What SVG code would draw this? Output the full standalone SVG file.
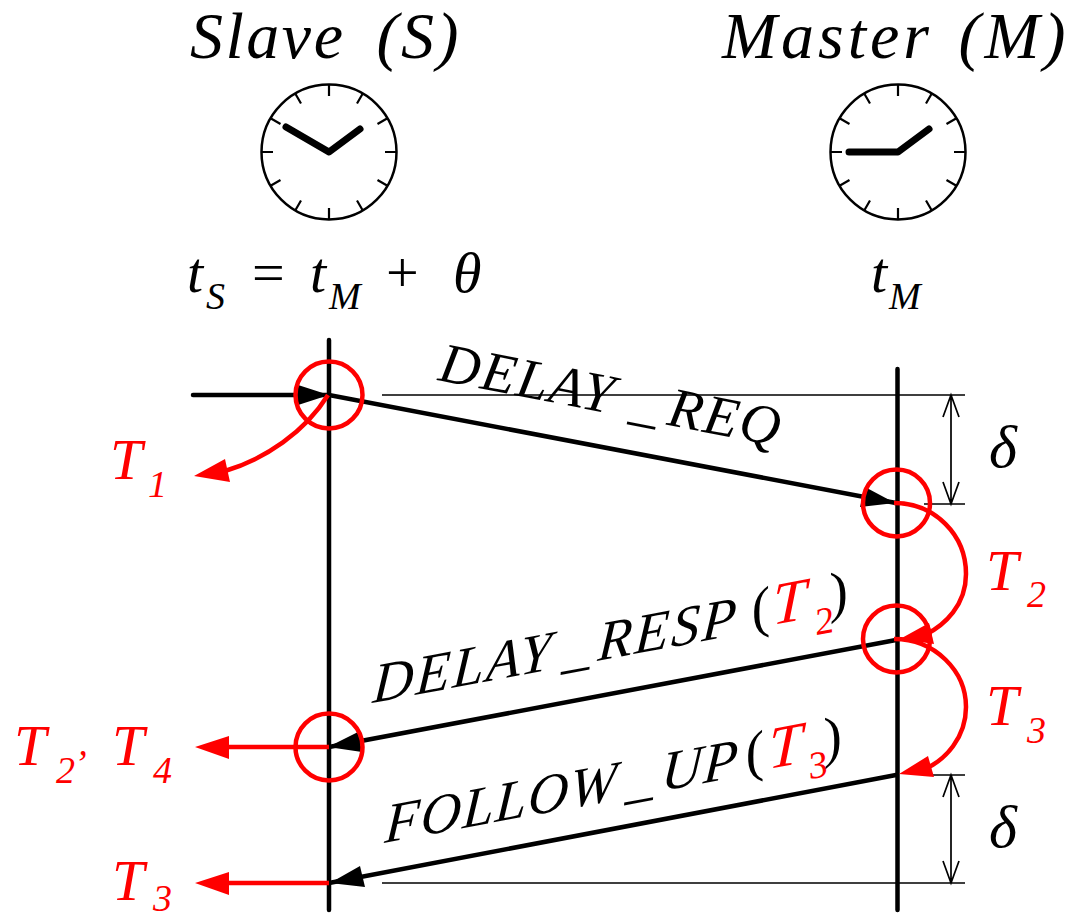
<svg xmlns="http://www.w3.org/2000/svg" width="1070" height="919" viewBox="0 0 1070 919">
<style>
text{font-family:"Liberation Serif","Times New Roman",serif;font-style:italic;fill:#000}
.h{font-size:66px}
.m{font-size:56px}
.v{font-size:58px}
.s{font-size:38px}
.n{font-style:normal}
.r{fill:#f00}
.ax{stroke:#000;stroke-width:4.500;fill:none;stroke-linecap:round}
.thin{stroke:#000;stroke-width:1.700;fill:none}
.rl{stroke:#f00;stroke-width:4.500;fill:none}
.face{fill:#fff;stroke:#000;stroke-width:2.500}
.tick{stroke:#000;stroke-width:2.200}
.hand{stroke:#000;stroke-width:7;fill:none;stroke-linecap:round;stroke-linejoin:round}
.bk{fill:#000}
.rf{fill:#f00}
</style>
<defs>
<g id="face">
<circle class="face" r="67.500"/>
<path class="tick" d="M0-67V-56M33.500-58L28-48.500M58-33.500L48.500-28M67 0H56M58 33.500L48.500 28M33.500 58L28 48.500M0 67V56M-33.500 58L-28 48.500M-58 33.500L-48.500 28M-67 0H-56M-58-33.500L-48.500-28M-33.500-58L-28-48.500"/>
</g>
</defs>
<g id="titles">
<text class="h" x="190" y="58" letter-spacing="2.500" word-spacing="12">Slave (S)</text>
<text class="h" x="722" y="58" letter-spacing="4" word-spacing="5">Master (M)</text>
</g>
<g id="clock-slave" transform="translate(329 152)">
<use href="#face"/>
<path class="hand" d="M-43-25L0 0L31-23"/>
</g>
<g id="clock-master" transform="translate(898 152)">
<use href="#face"/>
<path class="hand" d="M-49 0H0L31-23"/>
</g>
<g id="label-ts">
<text class="v" x="187" y="292">t</text>
<text class="s" x="206" y="309">S</text>
<text class="v n" x="252" y="292">=</text>
<text class="v" x="310" y="292">t</text>
<text class="s" x="329" y="309">M</text>
<text class="v n" x="386" y="292">+</text>
<text class="v" x="453" y="292">θ</text>
</g>
<g id="label-tm">
<text class="v" x="871" y="292">t</text>
<text class="s" x="889" y="309">M</text>
</g>
<g id="connectors">
<path class="ax" d="M329 340V910M897.500 369V910"/>
<path class="ax" d="M193 395H329L896 503M896 640L329 747M896 775L329 883"/>
<path class="bk" d="M329 395L295 384V406ZM895 503L865 487L860 507ZM328 747L358 732L362 752ZM330 883L360 866L365 887Z"/>
<path class="thin" d="M382 395H965M924 504H965M924 775H965M382 883H965M951 395V504M951 775V883M943 417L951 395L959 417M943 482L951 504L959 482M943 797L951 775L959 797M943 861L951 883L959 861"/>
<circle class="rl" cx="329" cy="395" r="33.500"/>
<circle class="rl" cx="896.500" cy="503" r="33.500"/>
<circle class="rl" cx="896.500" cy="639" r="33.500"/>
<circle class="rl" cx="329" cy="747" r="33.500"/>
<path class="rl" d="M328 395C305 432 265 459 225 471"/>
<path class="rl" d="M894 503C935 503 966 535 966 574C966 605 945 625 925 635"/>
<path class="rl" d="M894 639C935 639 966 671 966 707C966 738 945 760 925 769"/>
<path class="rl" d="M329 747H225M329 883H225"/>
<path class="rf" d="M194 476L225 459L230 482ZM900 639L929 623L934 644ZM899 774L928 756L934 777ZM195 747L229 736V759ZM195 883L229 872V895Z"/>
</g>
<g id="message-labels">
<text class="m" letter-spacing="2" transform="translate(437 380) rotate(11)">DELAY<tspan dx="17">_</tspan><tspan dx="8">REQ</tspan></text>
<text class="m" letter-spacing="2.500" transform="translate(372 703) skewY(-10.600) skewX(-4)">DELAY<tspan dx="9">_</tspan><tspan dx="5">RESP</tspan></text>
<text class="m" transform="translate(754 628) rotate(-10.600)">(</text>
<text class="m r" style="font-size:60px" transform="translate(772 625) skewY(-10.600) skewX(-2)">T</text>
<text class="s r" transform="translate(817 635) rotate(-10.600)">2</text>
<text class="m" transform="translate(832 612) rotate(-10.600)">)</text>
<text class="m" letter-spacing="1.500" transform="translate(384 843) skewY(-10.600) skewX(-4)">FOLLOW<tspan dx="8">_</tspan><tspan dx="6">UP</tspan></text>
<text class="m" transform="translate(748 772) rotate(-10.600)">(</text>
<text class="m r" style="font-size:60px" transform="translate(768 769) skewY(-10.600) skewX(-2)">T</text>
<text class="s r" transform="translate(811 779) rotate(-10.600)">3</text>
<text class="m" transform="translate(826 757) rotate(-10.600)">)</text>
</g>
<g id="timestamps">
<text class="v r" x="110" y="479">T</text><text class="s r" x="148" y="497">1</text>
<text class="v r" x="986" y="590">T</text><text class="s r" x="1027" y="607">2</text>
<text class="v r" x="986" y="725">T</text><text class="s r" x="1027" y="743">3</text>
<text class="v r" x="14" y="765">T</text><text class="s r" x="56" y="783">2</text><text class="s r" x="74" y="776">’</text>
<text class="v r" x="112" y="765">T</text><text class="s r" x="153" y="783">4</text>
<text class="v r" x="112" y="900">T</text><text class="s r" x="153" y="911">3</text>
<text class="v" x="989" y="467" style="font-size:60px">δ</text>
<text class="v" x="989" y="847" style="font-size:60px">δ</text>
</g>
</svg>
